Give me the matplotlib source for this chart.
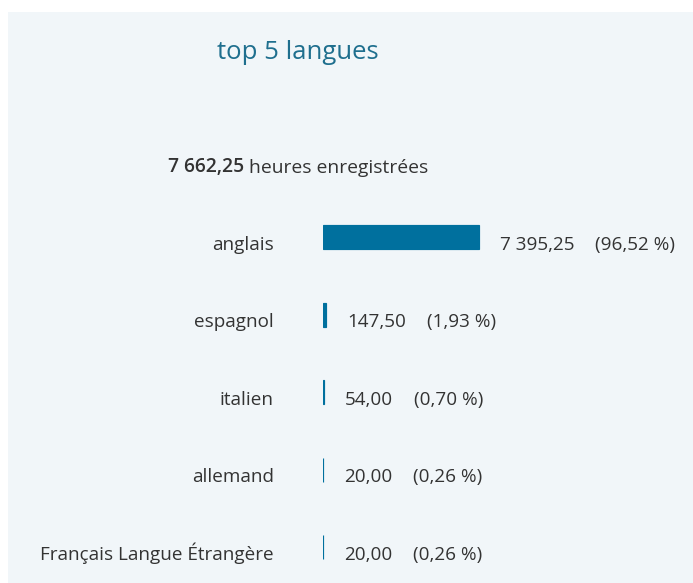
import matplotlib
matplotlib.use("Agg")
import matplotlib.pyplot as plt
from matplotlib.patches import Rectangle

plt.rcParams['font.family'] = ['Open Sans', 'DejaVu Sans']

categories = ["anglais", "espagnol", "italien", "allemand", "Français Langue Étrangère"]
hours = [7395.25, 147.50, 54.00, 20.00, 20.00]
percents = [96.52, 1.93, 0.70, 0.26, 0.26]
total_hours = 7662.25
title = "top 5 langues"

W, H = 693, 583
DPI = 100
fig = plt.figure(figsize=(W / DPI, H / DPI), dpi=DPI)
fig.patch.set_facecolor("white")

# panel background
fig.patches.append(Rectangle((8 / W, 0), 1 - 8 / W, 1 - 12 / H, transform=fig.transFigure,
                             facecolor="#f1f6f9", edgecolor="none", zorder=-5))


def fmt(v):
    s = f"{v:,.2f}"
    return s.replace(",", " ").replace(".", ",")


bar_color = "#00709e"
text_color = "#333333"
FS = 13.6

# axes geometry in pixels
left_px = 323
right_px = 693
row_top_px = 237
row_step = 77.6
n = len(categories)
top_px = row_top_px - 0.5 * row_step
bot_px = top_px + n * row_step
ax = fig.add_axes([left_px / W, (H - bot_px) / H, (right_px - left_px) / W, (bot_px - top_px) / H])
ax.set_facecolor("none")
xmax = max(hours) * (right_px - left_px) / 156.0
ax.set_xlim(0, xmax)
ax.set_ylim(n - 0.5, -0.5)
ax.axis("off")

bh = 24 / row_step
ypos = list(range(n))
ax.barh(ypos, hours, height=bh, color=bar_color, edgecolor=bar_color, linewidth=0.85)

for y, cat, v, p in zip(ypos, categories, hours, percents):
    base = y + bh / 2 + 0.6 / row_step
    ax.annotate(cat, xy=(0, base), xytext=(-35.5, 0), textcoords="offset points",
                va="baseline", ha="right", fontsize=FS, color=text_color, annotation_clip=False)
    t1 = ax.annotate(fmt(v), xy=(v, base), xytext=(15, 0), textcoords="offset points",
                     va="baseline", ha="left", fontsize=FS, color=text_color, annotation_clip=False)
    ax.annotate(f"({fmt(p)} %)", xy=(1, 0), xycoords=t1, xytext=(15, 0),
                textcoords="offset points", va="bottom", ha="left", fontsize=FS, color=text_color,
                annotation_clip=False)

fig.text(298 / W, 1 - 59 / H, title, ha="center", va="baseline", fontsize=18.5, color="#1f6f8e")

t = fig.text(168 / W, 1 - 172 / H, fmt(total_hours), ha="left", va="baseline", fontsize=13.9,
             color=text_color, fontweight="semibold")
ax.annotate(" heures enregistrées", xy=(1, 0), xycoords=t, xytext=(0, 0), textcoords="offset points",
            va="bottom", ha="left", fontsize=13.9, color=text_color, annotation_clip=False)

fig.savefig("out.png", dpi=DPI, facecolor=fig.get_facecolor())
